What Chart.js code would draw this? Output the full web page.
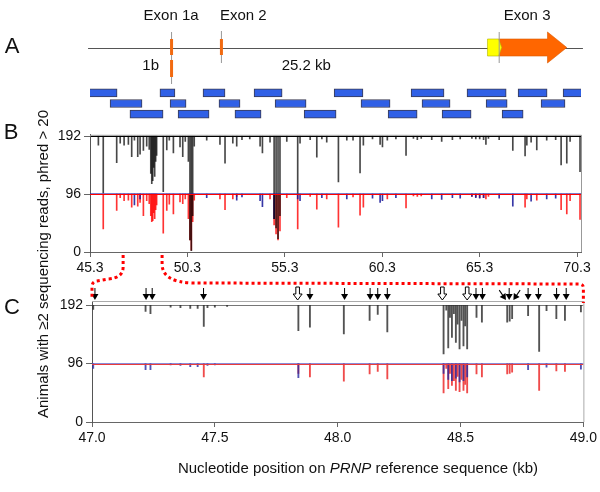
<!DOCTYPE html>
<html>
<head>
<meta charset="utf-8">
<script src="https://cdn.jsdelivr.net/npm/chart.js@4.4.1/dist/chart.umd.min.js"></script>
<style>
  body { margin: 0; background: #fff; }
  #wrap { position: relative; width: 600px; height: 492px; font-family: 'Liberation Sans', Arial, sans-serif; color: #111; overflow: hidden; }
  canvas { position: absolute; left: 0; }
  .panel { position: absolute; font-size: 22px; line-height: 1; transform: translate(-50%, -50%); }
  #ytitle { position: absolute; left: 42px; top: 264px; font-size: 15px; white-space: nowrap; transform: translate(-50%, -50%) rotate(-90deg); }
  #xtitle { position: absolute; left: 358px; top: 467px; font-size: 15px; white-space: nowrap; transform: translate(-50%, -50%); }
</style>
</head>
<body>
<div id="wrap">
  <canvas id="geneChart" width="600" height="125" style="top:0px"></canvas>
  <canvas id="overviewChart" width="600" height="160" style="top:120px"></canvas>
  <canvas id="zoomChart" width="600" height="200" style="top:250px"></canvas>
  <div class="panel" style="left:12px;top:46px">A</div>
  <div class="panel" style="left:11px;top:132px">B</div>
  <div class="panel" style="left:12px;top:307px">C</div>
  <div id="ytitle">Animals with ≥2 sequencing reads, phred &gt; 20</div>
  <div id="xtitle">Nucleotide position on <i>PRNP</i> reference sequence (kb)</div>
</div>
<script>
// ---- Données (kb) ----
const geneSpan = [45.2, 70.6];
const exon1 = 49.46;           // 1a et 1b
const exon2 = 52.02;
const exon3Utr = [65.70, 66.43];
const exon3Orf = [66.43, 68.78, 69.77]; // début, base de la pointe, pointe

// amplicons, une ligne par rangée
const ampRow1 = [[45.20, 46.69], [48.89, 49.66], [51.10, 52.23], [53.72, 55.16], [57.83, 59.31], [61.78, 63.47], [64.65, 66.66], [67.27, 68.76], [69.58, 70.61]];
const ampRow2 = [[46.33, 47.97], [49.41, 50.23], [51.92, 53.00], [54.80, 56.39], [59.21, 60.70], [62.34, 63.78], [65.63, 66.71], [68.45, 69.68]];
const ampRow3 = [[47.35, 49.05], [49.82, 51.41], [52.74, 54.08], [56.29, 57.93], [60.60, 62.09], [63.37, 64.86], [66.45, 67.53]];

const yTicks = [0, 96, 192];
const bXTicks = [45.3, 50.3, 55.3, 60.3, 65.3, 70.3];
const cXTicks = [47.0, 47.5, 48.0, 48.5, 49.0];

// Panneau B : creux de couverture (noir = 192 animaux, rouge/bleu = 96)
const bBlackPos = [45.73, 45.98, 46.67, 46.85, 47.05, 47.27, 47.44, 47.58, 47.75, 47.87, 48.04, 48.21, 48.34, 48.42, 48.47, 48.52, 48.57, 48.62, 48.67, 48.72, 49.06, 49.24, 49.37, 49.58, 49.92, 50.06, 50.19, 50.35, 50.43, 50.50, 50.57, 50.65, 51.29, 51.97, 52.23, 52.63, 52.83, 53.10, 53.50, 54.03, 54.15, 54.54, 54.75, 54.85, 54.95, 55.05, 55.40, 55.96, 56.08, 56.60, 56.94, 57.20, 57.45, 58.05, 58.48, 58.80, 59.16, 59.33, 59.80, 60.19, 60.31, 60.56, 61.00, 61.52, 61.90, 62.10, 62.30, 62.84, 63.35, 63.90, 64.30, 64.90, 65.10, 65.30, 65.50, 65.62, 65.75, 66.30, 67.00, 67.63, 67.72, 67.94, 68.23, 68.74, 69.20, 69.48, 69.77, 69.94, 70.45];
const bBlackVal = [177, 98, 148, 180, 177, 178, 158, 185, 158, 162, 168, 175, 170, 130, 113, 118, 140, 125, 150, 160, 100, 169, 185, 164, 174, 158, 183, 150, 20, 2, 60, 175, 185, 178, 147, 180, 175, 186, 187, 175, 164, 182, 55, 40, 22, 60, 183, 97, 180, 186, 157, 187, 182, 116, 185, 185, 131, 177, 187, 178, 174, 185, 187, 160, 188, 186, 188, 186, 183, 186, 187, 188, 187, 187, 186, 178, 188, 186, 168, 159, 177, 182, 169, 185, 186, 144, 147, 183, 133];
const bRedPos = [45.98, 46.67, 46.85, 47.05, 47.27, 47.44, 47.75, 47.87, 48.04, 48.21, 48.34, 48.42, 48.47, 48.52, 48.57, 48.62, 48.67, 48.72, 49.06, 49.24, 49.37, 49.58, 49.92, 50.06, 50.19, 50.35, 50.43, 50.50, 50.57, 50.65, 51.97, 52.23, 52.63, 52.83, 54.54, 54.75, 54.85, 54.95, 55.05, 55.40, 55.96, 56.60, 56.94, 57.45, 58.05, 58.80, 59.16, 59.33, 60.56, 61.52, 61.90, 62.10, 62.30, 64.90, 65.10, 65.30, 65.50, 65.62, 65.75, 67.63, 67.72, 68.23, 69.48, 69.77, 69.94, 70.45];
const bRedVal = [38, 69, 90, 85, 86, 74, 76, 82, 60, 85, 80, 60, 50, 52, 65, 55, 70, 78, 31, 69, 79, 63, 83, 80, 88, 55, 20, 3, 50, 86, 88, 70, 88, 92, 88, 45, 30, 20, 35, 90, 38, 92, 71, 88, 41, 91, 61, 74, 88, 73, 93, 92, 93, 92, 91, 90, 90, 88, 92, 74, 88, 86, 70, 63, 85, 54];
const bBluePos = [47.58, 47.87, 51.29, 52.83, 53.10, 54.03, 54.15, 54.75, 55.96, 56.08, 57.20, 58.48, 59.80, 60.19, 60.31, 61.00, 62.84, 63.35, 63.90, 64.30, 64.90, 65.10, 65.30, 65.50, 66.30, 67.00, 67.94, 68.74, 69.20];
const bBlueVal = [78, 88, 90, 86, 91, 85, 75, 55, 88, 85, 90, 88, 89, 82, 85, 90, 88, 87, 90, 89, 92, 90, 89, 90, 89, 76, 84, 88, 89];

// Panneau C : agrandissement 47-49 kb
const cBlackPos = [47.005, 47.218, 47.238, 47.32, 47.36, 47.40, 47.43, 47.455, 47.47, 47.50, 47.55, 47.84, 47.887, 48.025, 48.13, 48.163, 48.202, 48.431, 48.442, 48.450, 48.457, 48.465, 48.473, 48.481, 48.488, 48.496, 48.504, 48.512, 48.519, 48.527, 48.565, 48.587, 48.69, 48.70, 48.71, 48.775, 48.82, 48.85, 48.89, 48.925, 48.99];
const cBlackVal = [185, 182, 178, 189, 188, 187, 187, 157, 188, 189, 190, 150, 156, 145, 167, 177, 148, 112, 184, 122, 172, 139, 178, 131, 161, 120, 167, 125, 158, 120, 172, 164, 164, 166, 170, 175, 116, 183, 170, 167, 181];
const cRedPos = [47.455, 47.84, 47.887, 48.025, 48.13, 48.163, 48.202, 48.431, 48.442, 48.450, 48.457, 48.465, 48.473, 48.481, 48.488, 48.496, 48.504, 48.512, 48.519, 48.527, 48.565, 48.587, 48.69, 48.70, 48.71, 48.82, 48.89, 48.925];
const cRedVal = [74, 80, 74, 67, 79, 83, 71, 48, 88, 55, 80, 60, 68, 52, 75, 50, 70, 52, 62, 48, 79, 74, 79, 80, 82, 52, 84, 83];
const cBluePos = [47.005, 47.218, 47.238, 47.32, 47.36, 47.40, 47.43, 47.47, 47.50, 47.84, 48.431, 48.450, 48.465, 48.481, 48.496, 48.512, 48.527, 48.775, 48.85, 48.99];
const cBlueVal = [88, 86, 86, 94, 93, 91, 91, 93, 94, 73, 80, 70, 68, 72, 66, 68, 74, 86, 90, 87];

// flèches au-dessus du panneau C
const cArrowPos = [47.012, 47.22, 47.245, 47.454, 47.837, 47.887, 48.028, 48.132, 48.163, 48.202, 48.426, 48.527, 48.563, 48.589, 48.685, 48.698, 48.715, 48.775, 48.817, 48.891, 48.930];
const cArrowType = ['solid', 'solid', 'solid', 'solid', 'open', 'solid', 'solid', 'solid', 'solid', 'solid', 'open', 'open', 'solid', 'solid', 'left', 'solid', 'right', 'solid', 'solid', 'solid', 'solid'];

const B_TOP = 120, C_TOP = 250;
Chart.defaults.font.family = "'Liberation Sans', Arial, sans-serif";
Chart.defaults.font.size = 13;
Chart.defaults.color = '#111';

// barres flottantes qui descendent depuis la ligne de base
function dips(pos, val, base, color, thickness) {
    return {
        data: pos.map((x, i) => ({ x: x, y: [val[i], base] })),
        backgroundColor: color,
        barThickness: thickness,
        grouped: false,
        borderWidth: 0
    };
}

// cadre gris en haut et à droite, lignes de base à 96
const framePlugin = {
    id: 'frame',
    afterDatasetsDraw(chart, args, opts) {
        const { ctx, chartArea: a } = chart;
        const y96 = Math.round(chart.scales.y.getPixelForValue(96));
        ctx.save();
        ctx.lineWidth = 1;
        ctx.strokeStyle = opts.blue;
        ctx.beginPath();
        ctx.moveTo(a.left, y96 - 0.5); ctx.lineTo(a.right, y96 - 0.5);
        ctx.stroke();
        ctx.strokeStyle = opts.red;
        ctx.beginPath();
        ctx.moveTo(a.left, y96 + 0.5); ctx.lineTo(a.right, y96 + 0.5);
        ctx.stroke();
        ctx.strokeStyle = opts.color || '#999';
        ctx.beginPath();
        ctx.moveTo(a.left, a.top + 0.5);
        ctx.lineTo(a.right + 0.5, a.top + 0.5);
        ctx.lineTo(a.right + 0.5, a.bottom);
        ctx.stroke();
        ctx.restore();
    }
};

// ---- Panneau A : modèle du gène et amplicons ----
const genePlugin = {
    id: 'gene',
    afterDraw(chart) {
        const ctx = chart.ctx;
        const px = v => chart.scales.x.getPixelForValue(v);
        const yl = 48;
        ctx.save();
        ctx.lineWidth = 1;
        ctx.strokeStyle = '#555';
        ctx.beginPath();
        ctx.moveTo(px(geneSpan[0]), yl + 0.5);
        ctx.lineTo(px(geneSpan[1]), yl + 0.5);
        ctx.stroke();

        // traits fins aux exons
        ctx.strokeStyle = '#999';
        ctx.beginPath();
        ctx.moveTo(px(exon1) + 0.5, 32); ctx.lineTo(px(exon1) + 0.5, 84);
        ctx.moveTo(px(exon2) + 0.5, 31); ctx.lineTo(px(exon2) + 0.5, 63);
        ctx.stroke();

        ctx.fillStyle = '#f26a10';
        ctx.fillRect(px(exon1) - 1, 39, 3, 16);
        ctx.fillRect(px(exon1) - 1, 60, 3, 17);
        ctx.fillRect(px(exon2) - 1, 39, 3, 16);

        // exon 3 : flèche orange puis partie jaune
        const x0 = px(exon3Utr[0]), x1 = px(exon3Utr[1]);
        const xh = px(exon3Orf[1]), xt = px(exon3Orf[2]);
        ctx.fillStyle = '#ff6600';
        ctx.strokeStyle = '#d85a00';
        ctx.lineWidth = 0.6;
        ctx.beginPath();
        ctx.moveTo(x1 - 3, 39); ctx.lineTo(xh, 39); ctx.lineTo(xh, 32); ctx.lineTo(xt, 47.5);
        ctx.lineTo(xh, 63); ctx.lineTo(xh, 56); ctx.lineTo(x1 - 3, 56); ctx.closePath();
        ctx.fill(); ctx.stroke();
        ctx.fillStyle = '#ffff00';
        ctx.strokeStyle = '#b0b000';
        ctx.beginPath();
        ctx.moveTo(x0, 39); ctx.lineTo(x1 - 3, 39); ctx.lineTo(x1, 47.5); ctx.lineTo(x1 - 3, 56); ctx.lineTo(x0, 56);
        ctx.closePath();
        ctx.fill(); ctx.stroke();
        ctx.strokeStyle = '#999';
        ctx.lineWidth = 1;
        ctx.beginPath();
        ctx.moveTo(x1 - 2.5, 32); ctx.lineTo(x1 - 2.5, 63);
        ctx.stroke();

        ctx.fillStyle = '#111';
        ctx.font = "15px 'Liberation Sans', Arial, sans-serif";
        ctx.textBaseline = 'middle';
        ctx.textAlign = 'center';
        ctx.fillText('Exon 1a', px(exon1), 16);
        ctx.fillText('Exon 3', px((exon3Utr[0] + exon3Orf[2]) / 2), 16);
        ctx.fillText('25.2 kb', px(56.4), 66);
        ctx.textAlign = 'left';
        ctx.fillText('Exon 2', px(exon2) - 1, 16);
        ctx.textAlign = 'right';
        ctx.fillText('1b', px(exon1) - 12, 66);
        ctx.restore();
    }
};

const ampStyle = { backgroundColor: '#3060e6', borderColor: '#3a3a50', borderWidth: 1, borderSkipped: false, barThickness: 8, grouped: false };
const geneChart = new Chart(document.getElementById('geneChart'), {
    type: 'bar',
    data: {
        datasets: [ampRow1, ampRow2, ampRow3].map((row, r) => Object.assign({
            data: row.map(a => ({ x: a, y: r + 1 }))
        }, ampStyle))
    },
    options: {
        indexAxis: 'y',
        responsive: false,
        animation: false,
        devicePixelRatio: 1,
        layout: { padding: { left: 90, right: 19, top: 87.5, bottom: 5.5 } },
        plugins: { legend: { display: false }, tooltip: { enabled: false } },
        scales: {
            x: { type: 'linear', min: 45.3, max: 70.5, display: false, beginAtZero: false, offset: false },
            y: { type: 'linear', min: 0.5, max: 3.5, reverse: true, display: false, offset: false }
        }
    },
    plugins: [genePlugin]
});

// axes communs pour B et C
function coverageScales(xMin, xMax, yMax, xTicks, yWidth, topColor) {
    return {
        x: {
            type: 'linear', min: xMin, max: xMax, offset: false,
            afterBuildTicks: s => { s.ticks = xTicks.map(v => ({ value: v })); },
            afterFit: s => { s.height = 28; },
            ticks: { autoSkip: false, maxRotation: 0, padding: 3, callback: v => v.toFixed(1), font: { size: 14 } },
            grid: { drawOnChartArea: false, offset: false, tickLength: 5, tickColor: '#666' },
            border: { color: '#666' }
        },
        y: {
            type: 'linear', min: 0, max: yMax,
            afterBuildTicks: s => { s.ticks = yTicks.map(v => ({ value: v })); },
            afterFit: s => { s.width = yWidth; },
            ticks: { padding: 3, font: { size: 14 } },
            grid: {
                color: c => c.tick && c.tick.value === 192 ? topColor : 'rgba(0,0,0,0)',
                tickColor: '#666', tickLength: 6
            },
            border: { color: '#555' }
        }
    };
}

// ---- Panneau B : vue d'ensemble ----
const overviewChart = new Chart(document.getElementById('overviewChart'), {
    type: 'bar',
    data: {
        datasets: [
            dips(bBlackPos, bBlackVal, 192, 'rgba(0,0,0,0.72)', 1),
            dips(bBluePos, bBlueVal, 96, 'rgba(20,20,150,0.85)', 1),
            dips(bRedPos, bRedVal, 96, 'rgba(255,0,0,0.8)', 1)
        ]
    },
    options: {
        responsive: false,
        animation: false,
        devicePixelRatio: 1,
        layout: { padding: { left: 0, right: 19, top: 14.8, bottom: 0 } },
        plugins: { legend: { display: false }, tooltip: { enabled: false }, frame: { color: '#999', red: '#ff0000', blue: 'rgba(40,40,170,0.6)' } },
        scales: coverageScales(45.3, 70.5, 194, bXTicks, 90, '#000')
    },
    plugins: [framePlugin]
});

// ---- Panneau C : flèches et liaison pointillée ----
function drawArrow(ctx, x, y, type) {
    ctx.save();
    ctx.translate(x, y);
    if (type === 'left') ctx.rotate(-0.6);
    if (type === 'right') ctx.rotate(0.6);
    ctx.fillStyle = '#000';
    ctx.strokeStyle = '#000';
    ctx.lineWidth = 1;
    if (type === 'open') {
        ctx.fillStyle = '#fff';
        ctx.beginPath();
        ctx.moveTo(-1.8, -13); ctx.lineTo(1.8, -13); ctx.lineTo(1.8, -6); ctx.lineTo(4.5, -6);
        ctx.lineTo(0, 0); ctx.lineTo(-4.5, -6); ctx.lineTo(-1.8, -6); ctx.closePath();
        ctx.fill(); ctx.stroke();
    } else {
        ctx.beginPath();
        ctx.moveTo(0, -12); ctx.lineTo(0, -5);
        ctx.stroke();
        ctx.beginPath();
        ctx.moveTo(-3.5, -6); ctx.lineTo(3.5, -6); ctx.lineTo(0, 0); ctx.closePath();
        ctx.fill();
    }
    ctx.restore();
}

const zoomPlugin = {
    id: 'zoomMarks',
    afterDraw(chart) {
        const ctx = chart.ctx;
        const xs = chart.scales.x;
        const top = chart.chartArea.top;
        cArrowPos.forEach((v, i) => drawArrow(ctx, xs.getPixelForValue(v), top - 1, cArrowType[i]));

        // liaison entre l'axe de B (47-49 kb) et le cadre de C
        const bx = overviewChart.scales.x;
        const y0 = overviewChart.chartArea.bottom + B_TOP - C_TOP + 3;
        const xb1 = bx.getPixelForValue(cXTicks[0]), xb2 = bx.getPixelForValue(cXTicks[cXTicks.length - 1]);
        const xc1 = xs.getPixelForValue(cXTicks[0]), xc2 = xs.getPixelForValue(cXTicks[cXTicks.length - 1]);
        ctx.save();
        ctx.strokeStyle = '#ff0000';
        ctx.lineWidth = 3;
        ctx.setLineDash([3, 3]);
        ctx.beginPath();
        ctx.moveTo(xb1, y0);
        ctx.lineTo(xb1, y0 + 12);
        ctx.quadraticCurveTo(xb1, y0 + 23, xb1 - 15, y0 + 24);
        ctx.lineTo(xc1 + 5, y0 + 26);
        ctx.quadraticCurveTo(xc1, y0 + 26.5, xc1, y0 + 32);
        ctx.lineTo(xc1, top - 2);
        ctx.moveTo(xb2, y0);
        ctx.lineTo(xb2, y0 + 9);
        ctx.quadraticCurveTo(xb2, y0 + 27, xb2 + 30, y0 + 28);
        ctx.lineTo(xc2 - 4, y0 + 29);
        ctx.quadraticCurveTo(xc2, y0 + 29, xc2, y0 + 33);
        ctx.lineTo(xc2, top + 2);
        ctx.stroke();
        ctx.restore();
    }
};

const zoomChart = new Chart(document.getElementById('zoomChart'), {
    type: 'bar',
    data: {
        datasets: [
            dips(cBlackPos, cBlackVal, 192, 'rgba(40,40,40,0.8)', 1.2),
            dips(cBluePos, cBlueVal, 96, 'rgba(40,40,160,0.8)', 1.2),
            dips(cRedPos, cRedVal, 96, 'rgba(235,30,30,0.8)', 1.2)
        ]
    },
    options: {
        responsive: false,
        animation: false,
        devicePixelRatio: 1,
        layout: { padding: { left: 0, right: 10, top: 51, bottom: 0 } },
        plugins: { legend: { display: false }, tooltip: { enabled: false }, frame: { color: '#aaa', red: '#e83c3c', blue: 'rgba(90,90,200,0.7)' } },
        scales: coverageScales(47.0, 49.0, 199, cXTicks, 92, '#777')
    },
    plugins: [framePlugin, zoomPlugin]
});
</script>
</body>
</html>
